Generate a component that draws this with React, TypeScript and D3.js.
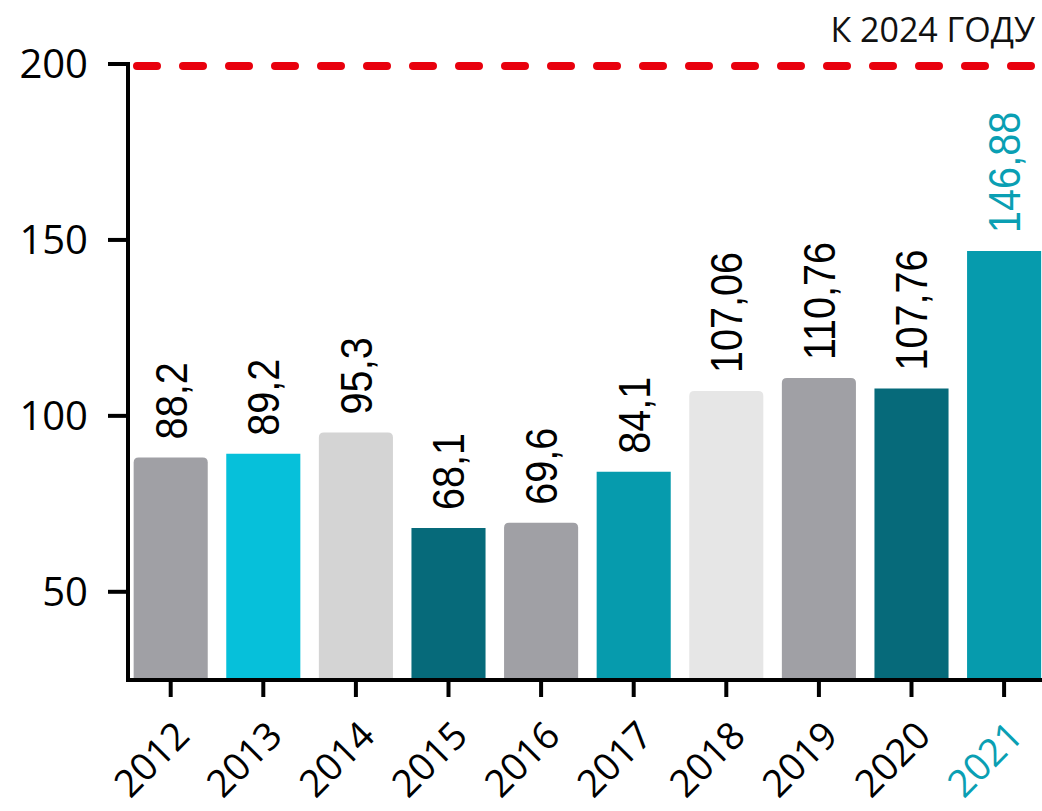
import React from "react";
import * as d3 from "d3";

const years = ["2012", "2013", "2014", "2015", "2016", "2017", "2018", "2019", "2020", "2021"];
const values = [88.2, 89.2, 95.3, 68.1, 69.6, 84.1, 107.06, 110.76, 107.76, 146.88];
const barColors = ["#a0a0a5", "#06c0da", "#d4d4d4", "#066a7a", "#a0a0a5", "#069bad", "#e6e6e6", "#a0a0a5", "#066a7a", "#069bad"];
const yTicks = [50, 100, 150, 200];
const targetValue = 200;
const targetLabel = "К 2024 ГОДУ";

const W = 1042;
const H = 811;
const axisX = 128;
const axisY = 680;
const tickFont = "'Open Sans', sans-serif";
const valueFont = "'Liberation Sans', Arial, sans-serif";
const highlight = "#0a9fb3";
const grays = new Set(["#a0a0a5", "#d4d4d4", "#e6e6e6"]);

const x = d3.scaleBand().domain(years).range([124.4, 1050.4]).paddingInner(0.2).paddingOuter(0.1);
const y = d3.scaleLinear().domain([25.5, 200]).range([678, 64]);

const barPath = (x0: number, y0: number, w: number, h: number, r: number) => {
  const p = d3.path();
  p.moveTo(x0, y0 + h);
  p.lineTo(x0, y0 + r);
  p.quadraticCurveTo(x0, y0, x0 + r, y0);
  p.lineTo(x0 + w - r, y0);
  p.quadraticCurveTo(x0 + w, y0, x0 + w, y0 + r);
  p.lineTo(x0 + w, y0 + h);
  p.closePath();
  return p.toString();
};

export default function App() {
  const bw = x.bandwidth();
  const last = years[years.length - 1];
  return (
    <svg width={W} height={H} style={{ position: "absolute", left: 0, top: 0, background: "#fff" }}>
      {/* bars */}
      {years.map((yr, i) => {
        const x0 = x(yr)!;
        const top = y(values[i]);
        const r = grays.has(barColors[i]) ? 5 : 0;
        return <path key={yr} d={barPath(x0, top, bw, y.range()[0] - top, r)} fill={barColors[i]} />;
      })}

      {/* value labels */}
      {years.map((yr, i) => {
        const cx = x(yr)! + bw / 2;
        const top = y(values[i]) - 18;
        return (
          <text
            key={"v" + yr}
            transform={`translate(${cx},${top}) rotate(-90) scale(0.9,1)`}
            dy="0.36em"
            fontFamily={valueFont}
            fontSize={44}
            fill={yr === last ? highlight : "#000"}
          >
            {String(values[i]).replace(".", ",")}
          </text>
        );
      })}

      {/* target line */}
      <line
        x1={137}
        x2={W + 10}
        y1={y(targetValue) + 2}
        y2={y(targetValue) + 2}
        stroke="#e8000d"
        strokeWidth={8}
        strokeDasharray="20 26"
        strokeLinecap="round"
      />
      <text x={1035} y={42} textAnchor="end" fontFamily={tickFont} fontSize={34} fill="#111">
        {targetLabel}
      </text>

      {/* y axis */}
      <line x1={axisX} x2={axisX} y1={y(200) - 2} y2={axisY + 2} stroke="#000" strokeWidth={4} />
      {yTicks.map((t) => (
        <g key={"y" + t}>
          <line x1={108} x2={axisX} y1={y(t)} y2={y(t)} stroke="#000" strokeWidth={4} />
          <text x={88} y={y(t)} dy="0.36em" textAnchor="end" fontFamily={tickFont} fontSize={40} fill="#000">
            {t}
          </text>
        </g>
      ))}

      {/* x axis */}
      <line x1={axisX - 2} x2={W} y1={axisY} y2={axisY} stroke="#000" strokeWidth={4} />
      {years.map((yr) => {
        const cx = x(yr)! + bw / 2;
        return (
          <g key={"x" + yr}>
            <line x1={cx} x2={cx} y1={axisY} y2={697} stroke="#000" strokeWidth={4} />
            <text
              transform={`translate(${cx + 21},738) rotate(-45)`}
              textAnchor="end"
              fontFamily={tickFont}
              fontSize={38}
              fill={yr === last ? highlight : "#000"}
            >
              {yr}
            </text>
          </g>
        );
      })}
    </svg>
  );
}
